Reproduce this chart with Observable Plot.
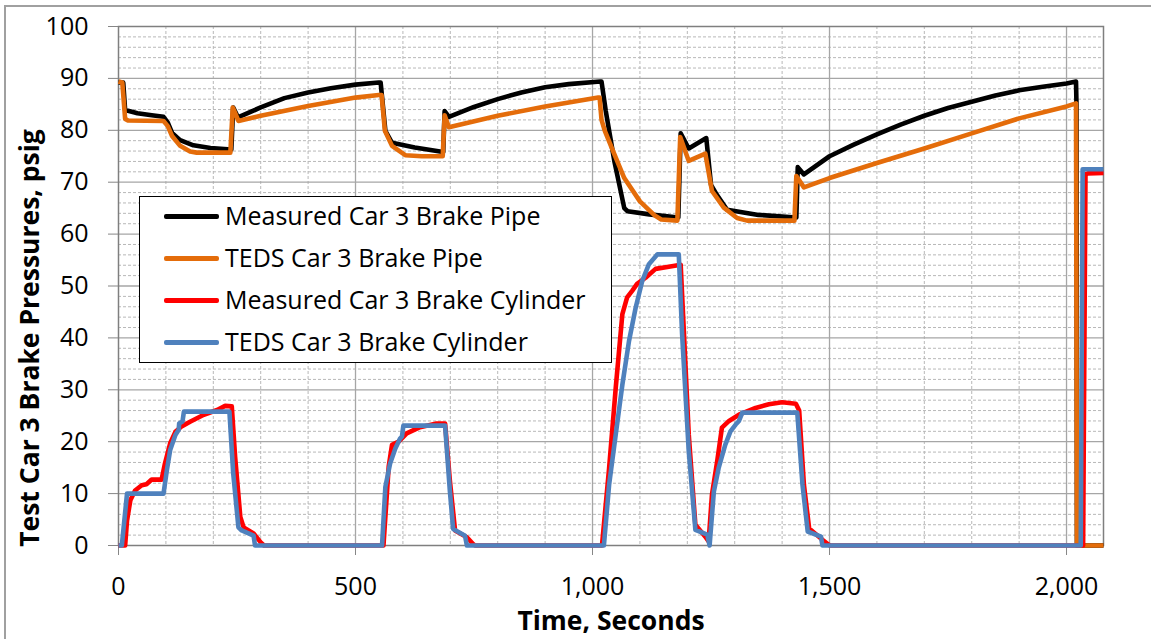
<!DOCTYPE html>
<html>
<head>
<meta charset="utf-8">
<script src="https://cdn.jsdelivr.net/npm/d3@7"></script>
<script src="https://cdn.jsdelivr.net/npm/@observablehq/plot@0.6"></script>
<style>
  html, body { margin: 0; padding: 0; background: #fff; overflow: hidden; }
  #wrap { position: relative; width: 1151px; height: 639px; font-family: "Open Sans", sans-serif; }
  #border { position: absolute; left: 4px; top: 5px; width: 1200px; height: 700px; border: 2px solid #a0a0a0; box-sizing: border-box; }
  #chart { position: absolute; left: 0; top: 0; }
  #legend { position: absolute; left: 139px; top: 196px; width: 473px; height: 167px; box-sizing: border-box; border: 1px solid #000; background: #fff; }
  .row { position: absolute; left: 0; height: 30px; }
  .swatch { position: absolute; left: 24px; width: 55px; height: 4.5px; border-radius: 2px; top: 13px; }
  .lab { position: absolute; left: 85px; top: -3px; font-size: 25px; white-space: nowrap; color: #000; line-height: 34px; }
  svg text { fill: #000; }
</style>
</head>
<body>
<div id="wrap">
  <div id="border"></div>
  <div id="chart"></div>
  <div id="legend"></div>
</div>
<script>
// ---------- data ----------
const seriesNames = [
  "Measured Car 3 Brake Pipe",
  "TEDS Car 3 Brake Pipe",
  "Measured Car 3 Brake Cylinder",
  "TEDS Car 3 Brake Cylinder"
];
const seriesColors = ["#000000", "#E46C0A", "#FF0000", "#4F81BD"];

const xTicks = [0, 500, 1000, 1500, 2000];
const yTicks = [0, 10, 20, 30, 40, 50, 60, 70, 80, 90, 100];

// [time s, pressure psig]
const measuredPipe = [
  [0,89.2],[10,89.2],[14,83.9],[40,83.3],[70,82.9],[95,82.6],[104,81.5],[113,79.5],[130,78.1],[158,77.1],
  [194,76.6],[238,76.3],[242,84.4],[252,82.5],[300,84.4],[350,86.2],[400,87.3],[448,88.1],[500,88.8],
  [549,89.2],[553,89.2],[563,79.9],[577,77.6],[625,76.7],[685,75.8],[688,83.7],[697,82.6],[750,84.5],
  [800,86.0],[850,87.3],[900,88.3],[950,88.9],[1016,89.4],[1019,89.4],[1028,83.7],[1046,74.1],[1067,65.0],
  [1074,64.4],[1120,63.8],[1181,63.2],[1186,79.4],[1203,76.5],[1240,78.5],[1250,69.5],[1262,67.6],
  [1284,64.7],[1350,63.7],[1430,63.2],[1433,72.9],[1446,71.5],[1500,75.0],[1550,77.2],[1600,79.2],
  [1650,81.1],[1700,82.8],[1750,84.3],[1800,85.5],[1850,86.7],[1900,87.7],[1950,88.4],[2000,89.0],
  [2020,89.4],[2021,85.0],[2022,0],[2078,0]
];
const tedsPipe = [
  [0,89.4],[8,89.2],[14,82.2],[20,81.9],[95,81.8],[104,80.8],[113,78.9],[130,77.0],[151,75.9],[165,75.7],
  [236,75.7],[241,84.4],[253,81.8],[300,82.8],[400,84.7],[500,86.3],[549,86.8],[555,86.8],[562,79.9],
  [577,77.0],[605,75.2],[640,75.0],[684,75.0],[688,82.9],[697,80.6],[800,82.8],[900,84.6],[1012,86.3],
  [1015,86.3],[1019,82.0],[1026,79.9],[1046,75.4],[1067,70.8],[1100,66.3],[1131,63.6],[1145,62.8],
  [1179,62.6],[1185,78.7],[1203,74.1],[1238,75.5],[1252,68.3],[1277,65.1],[1305,63.1],[1326,62.6],
  [1426,62.6],[1430,71.2],[1446,69.0],[1500,70.8],[1600,73.7],[1700,76.5],[1800,79.4],[1900,82.3],
  [2000,84.6],[2020,85.2],[2022,0],[2078,0]
];
const measuredCyl = [
  [0,0],[14,0],[18,4.8],[25,8.7],[35,10.6],[49,11.6],[59,11.8],[70,12.7],[91,12.7],[98,15.8],[109,19.7],
  [120,21.9],[134,23.0],[152,23.9],[180,25.2],[208,26.1],[225,26.9],[239,26.8],[246,17.1],[257,5.5],
  [264,3.5],[285,2.3],[300,0.6],[307,0],[559,0],[570,15.2],[577,19.4],[591,20.0],[608,21.6],[636,22.8],
  [671,23.5],[689,23.5],[699,12.6],[710,2.9],[735,1.6],[749,0.2],[752,0],[1020,0],[1035,14.9],[1049,30.4],
  [1063,44.6],[1073,47.8],[1084,49.1],[1094,50.4],[1112,51.6],[1133,53.3],[1161,53.7],[1186,54.1],
  [1193,40.7],[1203,21.4],[1217,4.0],[1238,1.7],[1245,0.8],[1252,9.8],[1263,16.2],[1273,22.7],[1288,24.0],
  [1309,25.2],[1344,26.5],[1372,27.2],[1400,27.6],[1429,27.3],[1436,26.0],[1446,11.7],[1457,3.3],
  [1485,1.1],[1499,0.1],[1502,0],[2035,0],[2040,71.5],[2045,71.7],[2078,71.8]
];
const tedsCyl = [
  [0,0],[7,0],[18,10],[95,10],[102,14.5],[109,18.4],[120,21.3],[127,22.3],[128,23.5],[135,23.9],[138,25.8],
  [234,25.8],[242,13.9],[253,3.5],[260,2.9],[285,1.9],[288,0],[556,0],[563,11.3],[573,15.8],[584,18.7],
  [594,20.6],[598,21.0],[601,23.1],[689,23.1],[699,10.6],[706,3.2],[731,1.9],[735,0],[1024,0],[1035,11.7],
  [1049,21.4],[1063,31.0],[1077,39.4],[1091,45.8],[1105,51.0],[1119,54.2],[1137,56.1],[1182,56.1],
  [1189,40.7],[1203,18.2],[1217,3.0],[1242,2.1],[1247,0],[1256,10.4],[1266,14.9],[1280,19.4],[1291,22.0],
  [1302,23.3],[1309,24.0],[1316,25.6],[1432,25.6],[1443,11.7],[1454,2.7],[1482,1.7],[1485,0],[2030,0],
  [2034,72.5],[2078,72.5]
];
const allSeries = [measuredPipe, tedsPipe, measuredCyl, tedsCyl];

// ---------- chart ----------
const xMinor = d3.range(100, 2078, 100).filter(v => v % 500 !== 0);
const xMajor = [500, 1000, 1500, 2000];
const yMinor = d3.range(2, 100, 2).filter(v => v % 10 !== 0);
const yMajor = d3.range(10, 100, 10);

const lineMarks = allSeries.map((s, i) =>
  Plot.line(s, {x: d => d[0], y: d => d[1], stroke: seriesColors[i], strokeWidth: 4.6,
    strokeLinejoin: "round", strokeLinecap: "butt"})
);

const chart = Plot.plot({
  width: 1151,
  height: 639,
  marginLeft: 118,
  marginRight: 48,
  marginTop: 26,
  marginBottom: 94,
  style: {fontFamily: "'Open Sans', sans-serif", background: "transparent", overflow: "visible"},
  x: {domain: [0, 2078]},
  y: {domain: [0, 100]},
  marks: [
    Plot.gridX(xMinor, {stroke: "#b8b8b8", strokeOpacity: 1, strokeDasharray: "3,2"}),
    Plot.gridY(yMinor, {stroke: "#b8b8b8", strokeOpacity: 1, strokeDasharray: "3,2"}),
    Plot.gridX(xMajor, {stroke: "#a6a6a6", strokeOpacity: 1, strokeWidth: 1.3}),
    Plot.gridY(yMajor, {stroke: "#a6a6a6", strokeOpacity: 1, strokeWidth: 1.3}),
    Plot.frame({stroke: "#7f7f7f", strokeWidth: 1.5}),
    Plot.axisX({ticks: xTicks, tickFormat: d3.format(","), tickSize: 10, tickPadding: 22,
      fontSize: 25, stroke: "#868686", label: null}),
    Plot.axisY({ticks: yTicks, tickSize: 10, tickPadding: 20, fontSize: 25, stroke: "#868686", label: null}),
    ...lineMarks,
    Plot.text(["Time, Seconds"], {frameAnchor: "bottom", dy: 84, textAnchor: "middle",
      fontSize: 26.5, fontWeight: "bold", fill: "#000"}),
    Plot.text(["Test Car 3 Brake Pressures, psig"], {frameAnchor: "left", dx: -88, dy: 52, rotate: -90,
      textAnchor: "middle", fontSize: 26.5, fontWeight: "bold", fill: "#000"})
  ]
});
document.getElementById("chart").appendChild(chart);

// ---------- legend ----------
const legend = document.getElementById("legend");
seriesNames.forEach((name, i) => {
  const row = document.createElement("div");
  row.className = "row";
  row.style.top = (4 + i * 42) + "px";
  row.innerHTML = `<span class="swatch" style="background:${seriesColors[i]}"></span><span class="lab">${name}</span>`;
  legend.appendChild(row);
});
</script>
</body>
</html>
